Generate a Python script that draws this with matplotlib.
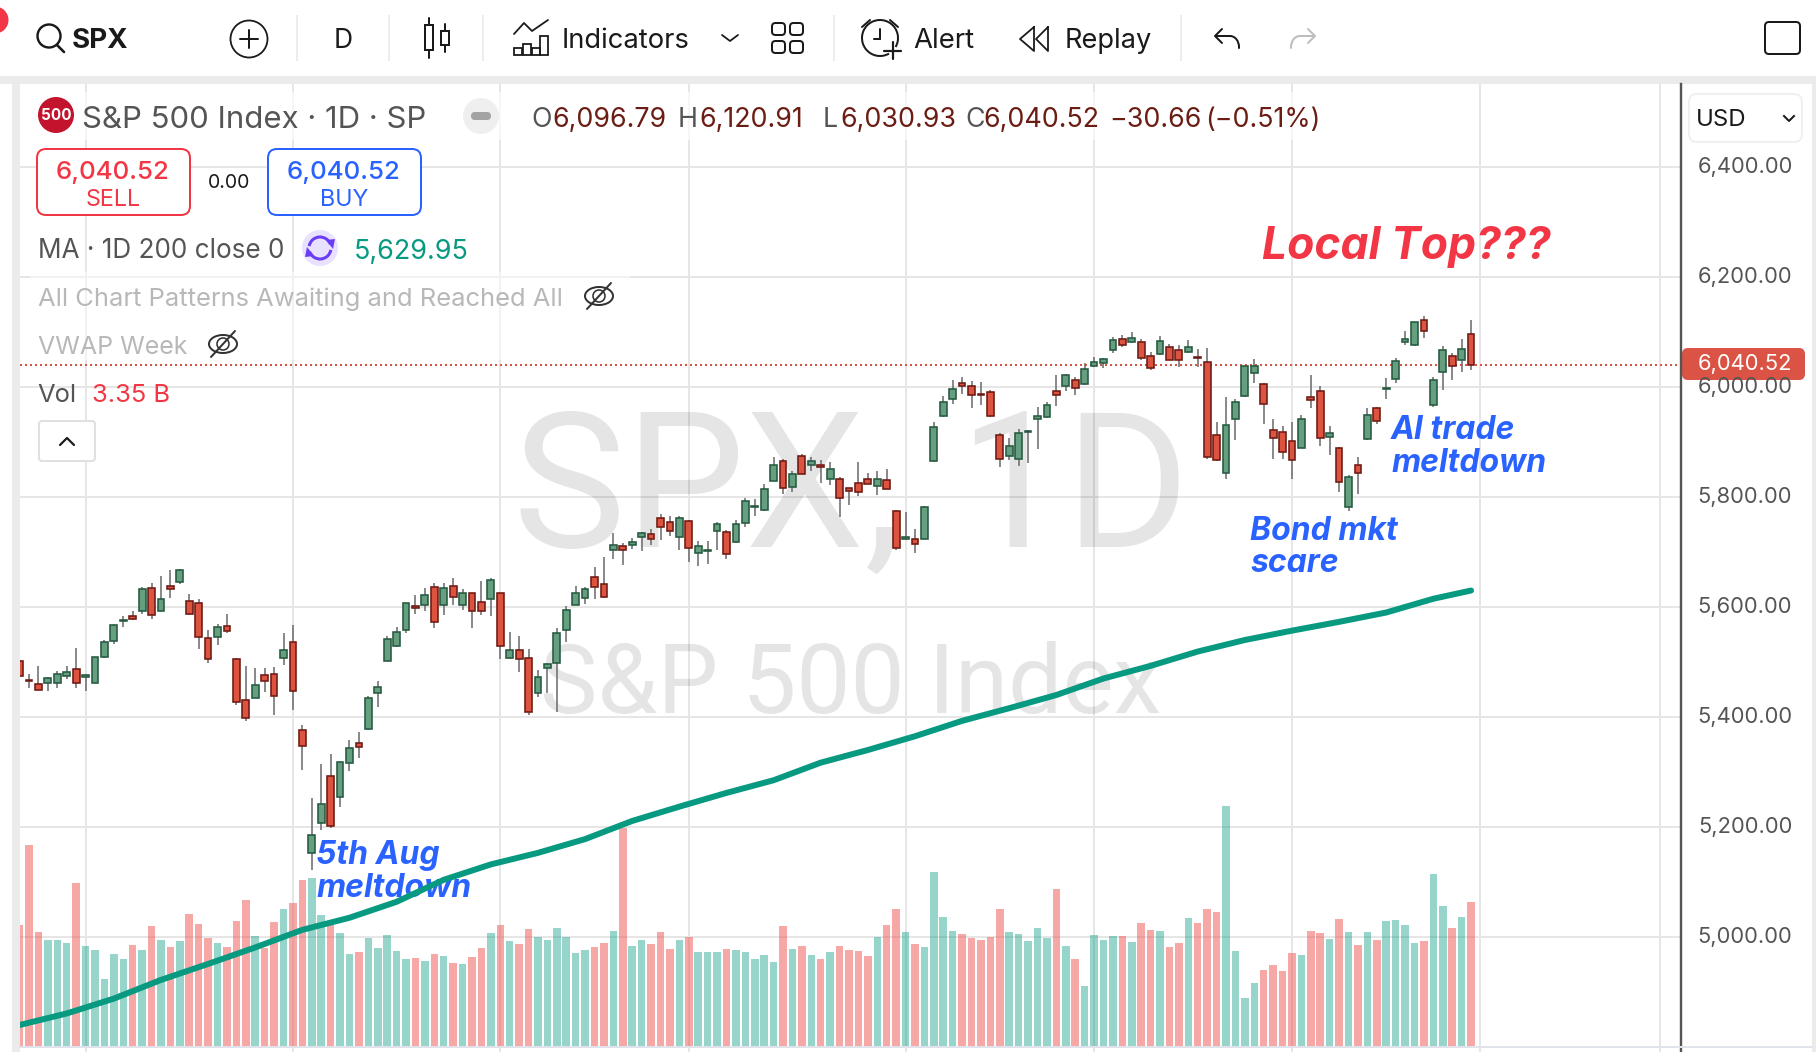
import matplotlib
matplotlib.use("Agg")
import matplotlib.pyplot as plt
from matplotlib.patches import Circle, FancyBboxPatch, Rectangle, Ellipse, Arc, Polygon
import numpy as np

plt.rcParams['font.family'] = ['Inter', 'Roboto', 'DejaVu Sans']

# OHLC, one value per daily bar
opens = [5501,5468,5460,5461,5461,5475,5488,5473,5462,5509,
         5539,5575,5584,5592,5635,5592,5639,5645,5610,5608,
         5544,5545,5566,5506,5430,5435,5477,5479,5507,5537,
         5377,5152,5207,5293,5254,5317,5352,5378,5443,5501,
         5530,5558,5602,5604,5637,5604,5639,5604,5625,5609,
         5614,5625,5507,5521,5508,5443,5490,5498,5558,5603,
         5616,5655,5642,5703,5710,5712,5728,5733,5762,5755,
         5727,5757,5699,5701,5738,5737,5719,5752,5781,5776,
         5830,5866,5818,5875,5859,5858,5832,5833,5816,5826,
         5833,5820,5831,5775,5723,5724,5724,5865,5947,5978,
         6008,6002,5987,5990,5912,5874,5870,5918,5941,5945,
         5993,6001,6013,6005,6039,6043,6068,6088,6082,6082,
         6057,6060,6073,6068,6063,6054,6046,5912,5843,5941,
         5984,6025,6006,5921,5919,5902,5890,5982,5993,5910,
         5890,5782,5859,5905,5962,5996,6014,6081,6076,6121,
         5968,6027,6057,6050,6096.79]
closes = [5475,5466,5449,5470,5479,5482,5461,5476,5510,5537,
          5568,5576,5578,5633,5585,5615,5632,5668,5588,5545,
          5505,5564,5556,5428,5399,5459,5465,5438,5522,5447,
          5347,5186,5241,5201,5319,5344,5345,5435,5455,5542,
          5555,5608,5598,5621,5572,5635,5618,5626,5592,5592,
          5649,5530,5521,5505,5409,5472,5496,5553,5595,5626,
          5633,5636,5619,5713,5703,5719,5734,5723,5745,5739,
          5762,5708,5710,5703,5751,5696,5751,5792,5783,5815,
          5859,5816,5842,5842,5865,5854,5851,5798,5811,5809,
          5824,5833,5815,5707,5728,5714,5782,5928,5973,5996,
          6001,5985,5985,5948,5870,5893,5917,5920,5948,5968,
          5986,6021,5999,6032,6046,6050,6086,6076,6090,6052,
          6034,6084,6050,6050,6073,6052,5872,5867,5930,5973,
          6039,6038,5970,5907,5881,5868,5942,5976,5908,5917,
          5827,5836,5843,5950,5938,5998,6048,6087,6119,6101,
          6012,6068,6039,6070,6040.52]
highs = [5503,5479,5493,5473,5483,5493,5525,5479,5510,5540,
         5570,5584,5593,5636,5644,5656,5667,5670,5624,5614,
         5558,5570,5587,5508,5493,5489,5489,5491,5553,5567,
         5385,5253,5315,5333,5319,5359,5373,5438,5465,5547,
         5563,5608,5622,5634,5644,5644,5653,5632,5626,5647,
         5653,5626,5555,5547,5524,5485,5499,5561,5601,5638,
         5636,5673,5691,5735,5716,5725,5736,5742,5769,5765,
         5765,5758,5720,5720,5755,5740,5758,5798,5796,5824,
         5873,5870,5847,5879,5873,5867,5864,5836,5817,5864,
         5844,5847,5851,5776,5773,5742,5783,5936,5983,6013,
         6018,6011,6009,5994,5916,5908,5923,5921,5963,5972,
         6021,6024,6019,6044,6054,6053,6091,6094,6100,6088,
         6064,6092,6079,6077,6085,6070,6071,5936,5982,5978,
         6039,6051,6007,5941,5930,5936,5950,6021,6001,5929,
         5891,5840,5872,5961,5964,6016,6052,6101,6119,6129,
         6018,6074,6062,6087,6120.91]
lows = [5474,5453,5449,5448,5453,5470,5453,5448,5461,5508,
        5533,5564,5577,5588,5579,5592,5617,5641,5586,5524,
        5499,5531,5553,5422,5393,5434,5445,5404,5494,5413,
        5304,5122,5195,5198,5237,5302,5326,5377,5419,5501,
        5528,5553,5588,5593,5562,5586,5604,5595,5562,5586,
        5584,5506,5506,5482,5404,5437,5444,5410,5537,5603,
        5606,5615,5617,5688,5677,5706,5701,5713,5722,5729,
        5704,5682,5675,5679,5704,5688,5717,5746,5766,5775,
        5830,5806,5810,5841,5848,5826,5822,5764,5786,5801,
        5823,5804,5814,5704,5722,5699,5723,5864,5946,5970,
        5987,5961,5968,5945,5855,5868,5857,5862,5888,5944,
        5966,5993,5986,6004,6037,6035,6062,6073,6080,6050,
        6031,6059,6050,6037,6061,6037,5870,5866,5833,5904,
        5982,6007,5933,5870,5870,5832,5889,5961,5892,5877,
        5810,5775,5806,5904,5932,5978,6008,6077,6075,6090,
        5964,5995,6013,6027,6030.93]
# volume in billions
volumes = [2.81,4.67,2.65,2.46,2.46,2.39,3.79,2.33,2.23,1.56,
           2.14,2.02,2.35,2.23,2.79,2.46,2.30,2.44,3.07,2.84,
           2.51,2.39,2.30,2.91,3.39,2.56,2.28,2.88,3.19,3.32,
           3.86,3.91,3.05,2.85,2.63,2.14,2.19,2.51,2.28,2.58,
           2.21,2.02,2.05,1.98,2.14,2.09,1.93,1.91,2.07,2.28,
           2.63,2.81,2.44,2.37,2.72,2.53,2.46,2.74,2.53,2.16,
           2.23,2.30,2.39,2.67,5.06,2.33,2.46,2.37,2.65,2.26,
           2.46,2.53,2.19,2.19,2.19,2.26,2.23,2.19,2.02,2.12,
           1.95,2.79,2.26,2.33,2.12,2.02,2.19,2.33,2.23,2.21,
           2.09,2.53,2.81,3.19,2.65,2.37,2.30,4.05,3.00,2.67,
           2.60,2.51,2.46,2.53,3.19,2.65,2.60,2.44,2.74,2.51,
           3.65,2.33,2.02,1.40,2.58,2.46,2.56,2.56,2.42,2.86,
           2.70,2.67,2.30,2.39,2.98,2.86,3.19,3.12,5.58,2.21,
           1.12,1.46,1.77,1.88,1.74,2.16,2.12,2.67,2.63,2.49,
           2.95,2.65,2.35,2.65,2.46,2.91,2.93,2.81,2.39,2.44,
           4.00,3.26,2.74,3.00,3.35]
# 200 day average, read every few bars
ma_bars = [0,5,10,15,20,25,30,35,40,45,50,55,60,65,70,75,80,85,90,95,100,105,110,115,120,125,130,135,140,145,150,154]
ma_values = [4840,4861,4888,4922,4951,4981,5013,5035,5064,5104,5132,5153,5178,5211,5237,5262,5285,5317,5340,5365,
             5393,5416,5440,5470,5493,5519,5540,5557,5573,5590,5615,5629.95]
month_bars = [7,29,51,71,94,114,135,155,174]
price_ticks = [6400,6200,6000,5800,5600,5400,5200,5000]
last_price = 6040.52

W, H = 1816, 1052
RED = '#f23645'
BLUE = '#2962ff'
TEAL = '#089981'
GREY = '#555555'
DARKRED = '#6b1d14'
INK = '#1a1a1a'
BAND = '#ebebeb'
GRID = '#e6e6e6'

fig = plt.figure(figsize=(W/100, H/100), dpi=100)
fig.patch.set_facecolor('white')

def px(w):
    return w*0.72

def layer(z):
    a = fig.add_axes([20/W, 0, (1681-20)/W, (H-84)/H])
    a.set_xlim((20-19.6)/9.425, (1681-19.6)/9.425)
    a.set_ylim(6000-(1052-387)/0.55, 6000+(387-84)/0.55)
    a.set_zorder(z)
    a.patch.set_alpha(0)
    a.axis('off')
    return a

# page layer in screen pixels
ui_back = fig.add_axes([0, 0, 1, 1], zorder=0)
ui_back.set_xlim(0, W); ui_back.set_ylim(H, 0); ui_back.axis('off')
ui_back.add_patch(Rectangle((0, 76), W, 8, color=BAND, lw=0))
ui_back.add_patch(Rectangle((12, 76), 8, H-76, color=BAND, lw=0))
ui_back.add_patch(Rectangle((1812, 76), 4, H-76, color=BAND, lw=0))

ax_grid = layer(1)
ax_vol = layer(2)
ax = layer(3)
ax_vol.set_ylim(-6*0.02326, (1046-84)*0.02326)

ui = fig.add_axes([0, 0, 1, 1], zorder=4)
ui.set_xlim(0, W); ui.set_ylim(H, 0); ui.axis('off'); ui.patch.set_alpha(0)

# grid and watermark
ax_grid.hlines(price_ticks+[4800], *ax_grid.get_xlim(), color=GRID, lw=px(2))
ax_grid.vlines(month_bars, *ax_grid.get_ylim(), color=GRID, lw=px(2))
ax_grid.text(512, 547, 'SPX,', transform=ui_back.transData, fontsize=137, color='k', alpha=0.1, family='Roboto', va='baseline')
ax_grid.text(958, 547, '1D', transform=ui_back.transData, fontsize=137, color='k', alpha=0.1, family='Roboto', va='baseline')
ax_grid.text(540, 713, 'S&P 500 Index', transform=ui_back.transData, fontsize=69.5, color='k', alpha=0.1, family='Roboto', va='baseline')

# volume
bars = np.arange(len(closes))
up = np.array(closes) >= np.array(opens)
ax_vol.bar(bars, volumes, width=0.8, color=[(8/255, 153/255, 129/255, 0.42) if u else (239/255, 83/255, 80/255, 0.5) for u in up], lw=0)

# candles
ax.vlines(bars, lows, highs, color='#6f6f6f', lw=px(1.6), zorder=2)
body_lo = np.minimum(opens, closes)
body_hi = np.maximum(opens, closes)
ax.bar(bars, body_hi-body_lo, bottom=body_lo, width=0.72,
       color=['#659f80' if u else '#dc5440' for u in up],
       edgecolor=['#255a40' if u else '#6e1a14' for u in up], lw=px(1.6), zorder=3)
ax.plot(ma_bars, ma_values, color=TEAL, lw=px(6), solid_capstyle='round', zorder=4)
ax.axhline(last_price, color='#db5441', lw=px(2), ls=(0, (1, 1.5)), zorder=1)

# chart notes, below the average line
for x, y, s, c, fs in [(316, 864, '5th Aug', BLUE, 23), (316, 897, 'meltdown', BLUE, 23),
                       (1250, 540, 'Bond mkt', BLUE, 23), (1250, 572, 'scare', BLUE, 23),
                       (1391, 439, 'AI trade', BLUE, 23), (1391, 472, 'meltdown', BLUE, 23),
                       (1262, 259, 'Local Top???', RED, 32)]:
    ax.text(x, y, s, transform=ui_back.transData, color=c, fontsize=fs, fontweight='bold', style='italic',
            family=['Inter', 'Roboto'], zorder=3.5, va='baseline')

# price axis
ui.plot([1681, 1681], [84, H], color=GREY, lw=px(2.4))
ui.plot([20, 1812], [1047, 1047], color='#e0e3eb', lw=px(2))
for p in price_ticks:
    ui.text(1745, 387+(6000-p)*0.55, f'{p:,.2f}', ha='center', va='center', fontsize=15.8, color=GREY)
ui.add_patch(FancyBboxPatch((1684, 350), 119, 28, boxstyle='round,pad=0,rounding_size=4', fc='#db5344', ec='#db5344', lw=px(4)))
ui.text(1745, 364, f'{last_price:,.2f}', ha='center', va='center', fontsize=15.8, color='white')
ui.add_patch(FancyBboxPatch((1689, 94), 113, 48, boxstyle='round,pad=0,rounding_size=8', fc='white', ec='#f0f0f0', lw=px(2)))
ui.text(1696, 120, 'USD', va='center', fontsize=17.3, color=INK)
ui.plot([1784, 1789, 1794], [116, 121, 116], color=INK, lw=px(2))

# red dot, top left
ui.add_patch(Circle((-5, 20), 13.5, color=RED, lw=0, clip_on=True))

# toolbar
def line(xs, ys, c=INK, w=2.0):
    ui.plot(xs, ys, color=c, lw=px(w), solid_capstyle='round', solid_joinstyle='round')

ui.add_patch(Circle((49, 36), 11.5, fc='none', ec=INK, lw=px(2.4)))
line([57, 64], [45, 52], w=2.6)
ui.text(72, 40.5, 'SPX', fontsize=20, fontweight='bold', color=INK, va='center')
ui.add_patch(Circle((249, 39), 18.5, fc='none', ec=INK, lw=px(1.8)))
line([240, 258], [39, 39]); line([249, 249], [30, 48])
for x in [297, 389, 483, 834, 1181]:
    ui.plot([x, x], [16, 60], color='#ededed', lw=px(2))
ui.text(343, 40.5, 'D', fontsize=19, color=INK, ha='center', va='center')
# candle glyph
line([429, 429], [18, 25]); line([429, 429], [50, 58])
ui.add_patch(Rectangle((425, 25), 8, 25, fc='white', ec=INK, lw=px(2)))
line([445, 445], [24, 31]); line([445, 445], [45, 52])
ui.add_patch(Rectangle((441, 31), 8, 14, fc='white', ec=INK, lw=px(2)))
# indicators glyph
line([514, 524, 532, 548], [34, 23, 31, 20], w=1.8)
for x, top in [(514, 48), (523, 44), (532, 48), (540, 36)]:
    ui.add_patch(Rectangle((x, top), 8, 55-top, fc='none', ec=INK, lw=px(1.8)))
ui.text(562, 41.5, 'Indicators', fontsize=19.7, color=INK, va='center')
line([722, 730, 738], [35, 41, 35], w=1.8)
for x in [772, 790]:
    for y in [23, 41]:
        ui.add_patch(FancyBboxPatch((x, y), 13, 12, boxstyle='round,pad=0,rounding_size=3.5', fc='none', ec=INK, lw=px(2)))
# alarm glyph
ui.add_patch(Arc((880, 38), 36, 36, theta1=60, theta2=390, ec=INK, lw=px(2)))
line([862, 870], [27, 20]); line([890, 898], [20, 27])
line([880, 880], [29, 39]); line([874, 880], [39, 39])
line([884, 901], [51, 51], w=2.2); line([893, 893], [42, 59], w=2.2)
ui.text(913, 41.5, 'Alert', fontsize=19.8, color=INK, va='center')
# replay glyph
line([1034, 1020, 1034, 1034], [27, 39, 51, 27], w=1.8)
line([1048, 1036, 1048, 1048], [27, 39, 51, 27], w=1.8)
ui.text(1065, 41.5, 'Replay', fontsize=19.6, color=INK, va='center')
# undo and redo
ui.add_patch(Arc((1230, 47), 18, 22, theta1=270, theta2=360, ec=INK, lw=px(2)))
line([1230, 1216], [36, 36]); line([1222, 1215, 1222], [29, 36, 43]); line([1239, 1239], [47, 48])
ui.add_patch(Arc((1300, 47), 18, 22, theta1=180, theta2=270, ec='#bdbdbd', lw=px(2)))
line([1300, 1314], [36, 36], c='#bdbdbd'); line([1308, 1315, 1308], [29, 36, 43], c='#bdbdbd'); line([1291, 1291], [47, 48], c='#bdbdbd')
ui.add_patch(FancyBboxPatch((1765, 22), 35, 32, boxstyle='round,pad=0,rounding_size=4', fc='white', ec=INK, lw=px(2)))

# soft backing behind the legend rows
ui.add_patch(Rectangle((24, 92), 1300, 48, fc='white', alpha=0.65, lw=0))
ui.add_patch(Rectangle((30, 272), 600, 88, fc='white', alpha=0.45, lw=0))

# header row
ui.add_patch(Circle((56, 115), 18, color='#c2142d', lw=0))
ui.text(56, 116, '500', fontsize=11, fontweight='bold', color='white', ha='center', va='center')
ui.text(82, 120, 'S&P 500 Index · 1D · SP', fontsize=22.4, color=GREY, va='center')
ui.add_patch(Circle((481, 116), 18, color='#efefef', lw=0))
ui.add_patch(FancyBboxPatch((471, 112), 20, 8, boxstyle='round,pad=0,rounding_size=4', fc='#a3a3a3', lw=0))
for x, s, c in [(531, 'O', GREY), (552, '6,096.79', DARKRED), (678, 'H', GREY), (699, '6,120.91', DARKRED),
                (823, 'L', GREY), (840, '6,030.93', DARKRED), (965, 'C', GREY), (983, '6,040.52', DARKRED),
                (1109, '−30.66', DARKRED), (1205, '(−0.51%)', DARKRED)]:
    ui.text(x, 120, s, fontsize=19.3, color=c, va='center')

# sell and buy boxes
for x, c, s in [(37, RED, 'SELL'), (268, BLUE, 'BUY')]:
    ui.add_patch(FancyBboxPatch((x, 149), 153, 66, boxstyle='round,pad=0,rounding_size=9', fc='white', ec=c, lw=px(2)))
    ui.text(x+76, 173, '6,040.52', fontsize=18.6, fontweight='medium', color=c, ha='center', va='center')
    ui.text(x+76, 200, s, fontsize=16.8, color=c, ha='center', va='center')
ui.text(229, 183, '0.00', fontsize=14, color=INK, ha='center', va='center')

# indicator rows
ui.text(38, 251.5, 'MA · 1D 200 close 0', fontsize=18.8, color=GREY, va='center')
ui.add_patch(Circle((320, 248), 18, color='#e8e1ff', lw=0))
ui.add_patch(Arc((320, 248), 22, 22, theta1=190, theta2=340, ec='#6b3df5', lw=px(3)))
ui.add_patch(Arc((320, 248), 22, 22, theta1=10, theta2=160, ec='#6b3df5', lw=px(3)))
ui.add_patch(Polygon([(326, 240), (335, 239), (333, 249)], color='#6b3df5', lw=0))
ui.add_patch(Polygon([(314, 256), (305, 257), (307, 247)], color='#6b3df5', lw=0))
ui.text(354, 251.5, '5,629.95', fontsize=19.4, color=TEAL, va='center')
ui.text(38, 299, 'All Chart Patterns Awaiting and Reached All', fontsize=18.4, color='#b8b8b8', va='center')
ui.text(38, 347, 'VWAP Week', fontsize=18, color='#b8b8b8', va='center')
for cx, cy in [(599, 296), (223, 344)]:
    ui.add_patch(Ellipse((cx, cy), 28, 18, fc='none', ec='#333333', lw=px(2)))
    ui.add_patch(Circle((cx, cy), 6, fc='none', ec='#333333', lw=px(1.6)))
    line([cx-12, cx+12], [cy+13, cy-13], c='#333333', w=2)
ui.text(37, 395, 'Vol', fontsize=18.4, color=GREY, va='center')
ui.text(92, 395, '3.35 B', fontsize=18.4, color=RED, va='center')
ui.add_patch(FancyBboxPatch((39, 421), 56, 40, boxstyle='round,pad=0,rounding_size=3', fc='white', ec='#e0e0e0', lw=px(2)))
line([60, 67, 74], [445, 438, 445], w=2.2)

fig.savefig('out.png', dpi=100)
